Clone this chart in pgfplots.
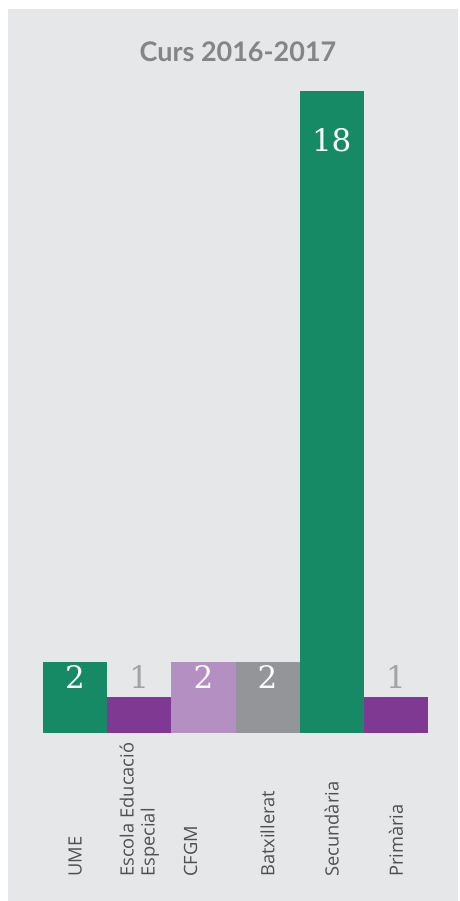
\documentclass[border=0pt]{standalone}
\usepackage{pgfplots}
\pgfplotsset{compat=1.18}
\usepackage{fontspec}
\setmainfont{Latin Modern Roman}
\newfontfamily\latofont{Lato}
\newfontfamily\opensans{Open Sans}
\newfontfamily\numfont{DejaVu Serif}
\definecolor{bg}{HTML}{E6E7E8}
\definecolor{cgreen}{HTML}{168A65}
\definecolor{cpurple}{HTML}{7F3993}
\definecolor{clpurple}{HTML}{B490C2}
\definecolor{cgray}{HTML}{939598}
\definecolor{titlegray}{HTML}{858585}
\definecolor{numgray}{HTML}{A3A3A3}
\definecolor{labgray}{HTML}{505050}
\begin{document}
\begin{tikzpicture}[x=1pt,y=1pt]
\fill[white] (0,0) rectangle (459,901);
\fill[bg] (8,0) rectangle (458,892);
\node[anchor=base, font=\latofont\bfseries\fontsize{27}{30}\selectfont, text=titlegray] at (238,839) {Curs 2016-2017};
\begin{axis}[
  at={(43pt,168pt)}, anchor=south west,
  scale only axis, width=385pt, height=642pt,
  xmin=0.5, xmax=6.5, ymin=0, ymax=18,
  axis line style={draw=none},
  ytick=\empty, major tick length=0pt,
  xtick={1,2,2.8,4,5,6},
  xticklabels={UME,{Escola Educació\\Especial},CFGM,Batxillerat,Secundària,Primària},
  xticklabel style={rotate=90, anchor=west, align=left, font=\opensans\fontsize{18.3}{21}\selectfont, text=labgray, inner sep=0pt, yshift=0pt, xshift=0pt},
  xticklabel shift=144pt,
  ybar, bar width=64.17pt, bar shift=0pt,
  clip=false,
  /pgf/number format/assume math mode=true,
  nodes near coords,
]
\addplot[fill=cgreen, draw=none, nodes near coords style={anchor=base, text=white, yshift=-27pt, font=\numfont\fontsize{31}{36}\selectfont}] coordinates {(1,2)};
\addplot[fill=cpurple, draw=none, nodes near coords style={anchor=base, text=numgray, yshift=9pt, font=\numfont\fontsize{31}{36}\selectfont}] coordinates {(2,1)};
\addplot[fill=clpurple, draw=none, nodes near coords style={anchor=base, text=white, yshift=-27pt, font=\numfont\fontsize{31}{36}\selectfont}] coordinates {(3,2)};
\addplot[fill=cgray, draw=none, nodes near coords style={anchor=base, text=white, yshift=-27pt, font=\numfont\fontsize{31}{36}\selectfont}] coordinates {(4,2)};
\addplot[fill=cgreen, draw=none, nodes near coords style={anchor=base, text=white, yshift=-61pt, font=\numfont\fontsize{31}{36}\selectfont}] coordinates {(5,18)};
\addplot[fill=cpurple, draw=none, nodes near coords style={anchor=base, text=numgray, yshift=9pt, font=\numfont\fontsize{31}{36}\selectfont}] coordinates {(6,1)};
\end{axis}
\end{tikzpicture}
\end{document}
